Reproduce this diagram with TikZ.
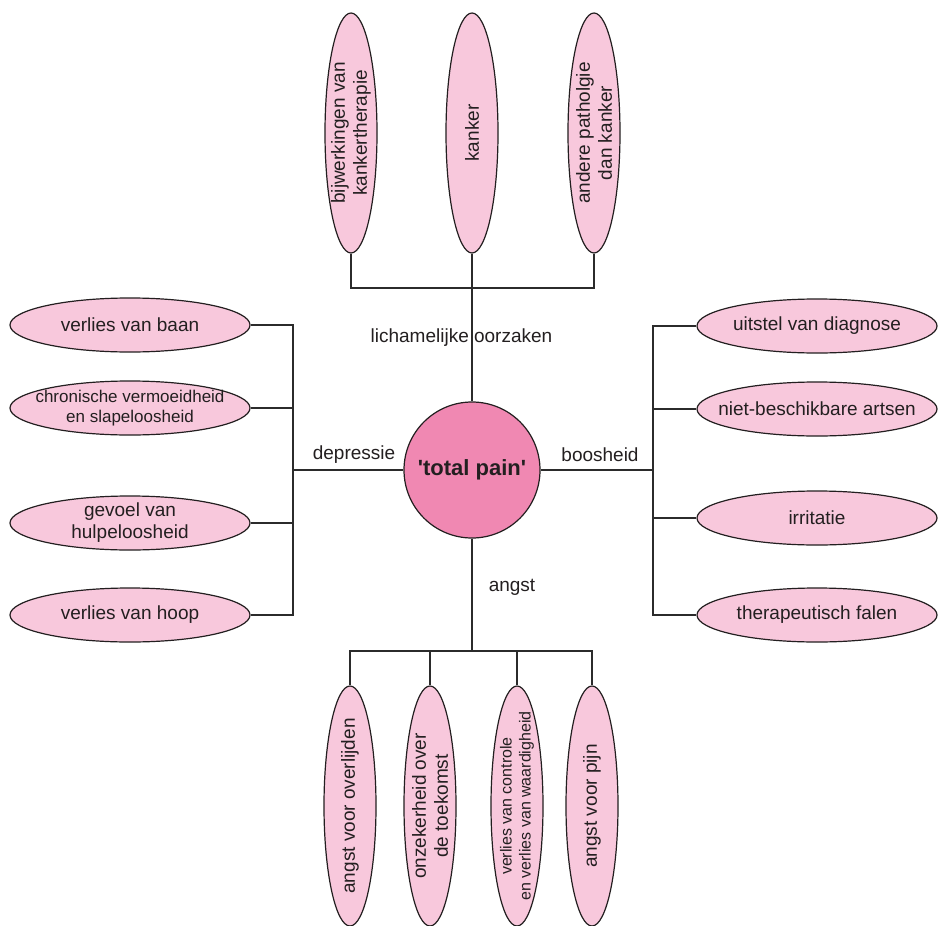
\documentclass[tikz,border=0pt]{standalone}
\usepackage{fontspec}
\setmainfont{Liberation Sans}
% same face without TeX ligatures, so that ' stays a straight quote
\newfontfamily\plainquotes{Liberation Sans}[Ligatures=TeXOff]
\usetikzlibrary{shapes.geometric}
\definecolor{inkc}{HTML}{231F20}
\definecolor{linec}{HTML}{2B2B2B}
\definecolor{leaffill}{HTML}{F8C8DC}
\definecolor{corefill}{HTML}{F088B2}
\tikzset{
  conn/.style={draw=linec, line width=1.4pt},
  hleaf/.style={ellipse, draw=inkc, line width=1.2pt, fill=leaffill,
    minimum width=240pt, minimum height=54pt, inner sep=0pt},
  vleaf/.style={ellipse, draw=inkc, line width=1.2pt, fill=leaffill, rotate=90,
    minimum width=240pt, minimum height=52pt, inner sep=0pt},
  txt/.style={text=inkc, align=center, inner sep=0pt,
    font=\fontsize{19}{22}\selectfont},
  vtxt/.style={txt, rotate=90},
  branch/.style={txt}
}
\begin{document}
\begin{tikzpicture}[x=1pt,y=-1pt]
\useasboundingbox (0,0) rectangle (940,926);
\fill[white] (0,0) rectangle (940,926);

% central node
\node[circle, draw=inkc, line width=1.2pt, fill=corefill, minimum size=136pt, inner sep=0pt,
      text=inkc, font=\plainquotes\fontsize{22}{26}\selectfont\bfseries] (c) at (472,470) {'total pain'};

% top branch: lichamelijke oorzaken
\node[vleaf] (t1) at (351,133) {};
\node[vleaf] (t2) at (472,133) {};
\node[vleaf] (t3) at (594,133) {};
\node[vtxt] (t1l) at (t1) {bijwerkingen van\\kankertherapie};
\node[vtxt] (t2l) at (t2) {kanker};
\node[vtxt] (t3l) at (t3) {andere patholgie\\dan kanker};
\coordinate (tb) at (472,288);
\draw[conn] (t1.west) |- (tb) -| (t3.west);
\draw[conn] (t2.west) -- (c.north);
\node[branch] (tlab) at (461.5,338) {lichamelijke oorzaken};

% left branch: depressie
\node[hleaf] (l1) at (130,325) {};
\node[hleaf] (l2) at (130,408) {};
\node[hleaf] (l3) at (130,523) {};
\node[hleaf] (l4) at (130,615) {};
\node[txt] (l1l) at (l1) {verlies van baan};
\node[txt, font=\fontsize{17}{20}\selectfont] (l2l) at (l2) {chronische vermoeidheid\\en slapeloosheid};
\node[txt] (l3l) at (l3) {gevoel van\\hulpeloosheid};
\node[txt] (l4l) at (l4) {verlies van hoop};
\coordinate (lb) at (293,470);
\draw[conn] (l1.east) -| (lb) |- (l4.east);
\draw[conn] (l2.east) -- (l2.east -| lb);
\draw[conn] (l3.east) -- (l3.east -| lb);
\draw[conn] (lb) -- (c.west);
\node[branch] (llab) at (354,455) {depressie};

% right branch: boosheid
\node[hleaf] (r1) at (817,326) {};
\node[hleaf] (r2) at (817,409) {};
\node[hleaf] (r3) at (817,518) {};
\node[hleaf] (r4) at (817,615) {};
\node[txt] (r1l) at (r1) {uitstel van diagnose};
\node[txt] (r2l) at (r2) {niet-beschikbare artsen};
\node[txt] (r3l) at (r3) {irritatie};
\node[txt] (r4l) at (r4) {therapeutisch falen};
\coordinate (rb) at (653,470);
\draw[conn] (r1.west) -| (rb) |- (r4.west);
\draw[conn] (r2.west) -- (r2.west -| rb);
\draw[conn] (r3.west) -- (r3.west -| rb);
\draw[conn] (rb) -- (c.east);
\node[branch] (rlab) at (600,455) {boosheid};

% bottom branch: angst
\node[vleaf] (b1) at (350,806) {};
\node[vleaf] (b2) at (430,806) {};
\node[vleaf] (b3) at (517,806) {};
\node[vleaf] (b4) at (592,806) {};
\node[vtxt] (b1l) at (b1) {angst voor overlijden};
\node[vtxt] (b2l) at (b2) {onzekerheid over\\de toekomst};
\node[vtxt, font=\fontsize{16}{19}\selectfont] (b3l) at (b3) {verlies van controle\\en verlies van waardigheid};
\node[vtxt] (b4l) at (b4) {angst voor pijn};
\coordinate (bb) at (472,651);
\draw[conn] (b1.east) |- (bb) -| (b4.east);
\draw[conn] (b2.east) -- (b2.east |- bb);
\draw[conn] (b3.east) -- (b3.east |- bb);
\draw[conn] (c.south) -- (bb);
\node[branch] (blab) at (512,587) {angst};
\end{tikzpicture}
\end{document}
